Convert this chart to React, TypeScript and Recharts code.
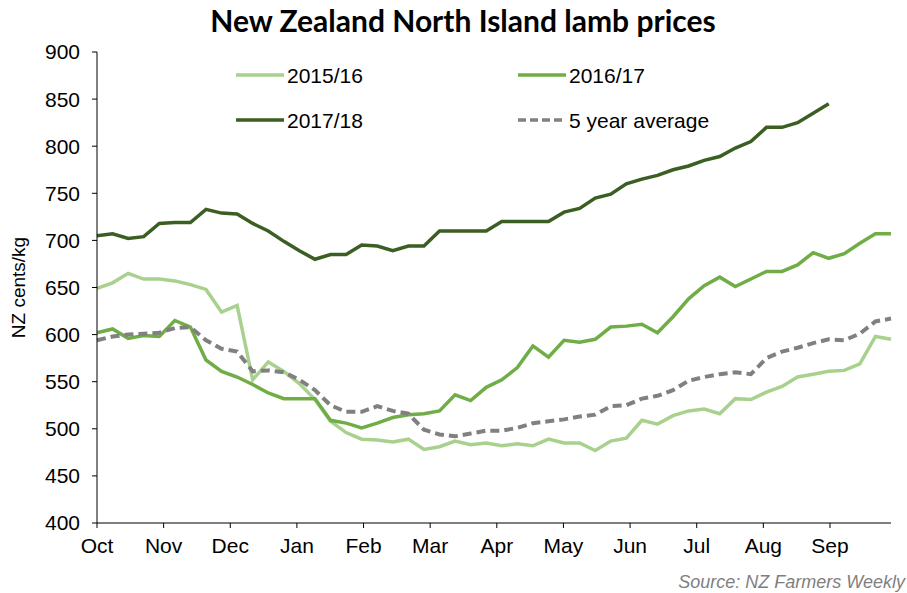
import { Legend, Line, LineChart, XAxis, YAxis } from "recharts";

const MONTHS = ["Oct", "Nov", "Dec", "Jan", "Feb", "Mar", "Apr", "May", "Jun", "Jul", "Aug", "Sep"];
// month tick positions in weeks from the start of the season
const MONTH_WEEKS = [0, 4.28, 8.56, 12.84, 17.12, 21.4, 25.68, 29.96, 34.24, 38.52, 42.8, 47.08];
const Y_TICKS = [400, 450, 500, 550, 600, 650, 700, 750, 800, 850, 900];

const S1516 = [
  649, 655, 665, 659, 659, 657, 653, 648, 624, 631, 552, 571, 561, 548, 531, 508, 496, 489, 488, 486,
  489, 478, 481, 487, 483, 485, 482, 484, 482, 489, 485, 485, 477, 487, 490, 509, 505, 514, 519, 521,
  516, 532, 531, 539, 545, 555, 558, 561, 562, 569, 598, 595,
];
const S1617 = [
  602, 606, 596, 599, 598, 615, 608, 573, 561, 555, 547, 538, 532, 532, 532, 509, 506, 501, 506, 512,
  515, 516, 519, 536, 530, 544, 552, 565, 588, 576, 594, 592, 595, 608, 609, 611, 602, 619, 638, 652,
  661, 651, 659, 667, 667, 674, 687, 681, 686, 697, 707, 707,
];
const S1718 = [
  705, 707, 702, 704, 718, 719, 719, 733, 729, 728, 718, 710, 699, 689, 680, 685, 685, 695, 694, 689,
  694, 694, 710, 710, 710, 710, 720, 720, 720, 720, 730, 734, 745, 749, 760, 765, 769, 775, 779, 785,
  789, 798, 805, 820, 820, 825, 835, 845,
];
const AVG5 = [
  594, 598, 600, 601, 602, 607, 608, 594, 585, 582, 561, 562, 560, 552, 541, 525, 518, 518, 524, 519,
  516, 499, 494, 492, 495, 498, 498, 501, 506, 508, 510, 513, 515, 524, 525, 532, 535, 541, 551, 555,
  558, 560, 558, 575, 582, 586, 591, 595, 594, 601, 614, 617,
];

const data = S1516.map((v, i) => ({
  week: i,
  s1516: v,
  s1617: S1617[i],
  s1718: i < S1718.length ? S1718[i] : null,
  avg5: AVG5[i],
}));

const SERIES = [
  { key: "s1516", name: "2015/16", color: "#A9D18E", dash: undefined },
  { key: "s1617", name: "2016/17", color: "#70AD47", dash: undefined },
  { key: "s1718", name: "2017/18", color: "#3B5E23", dash: undefined },
  { key: "avg5", name: "5 year average", color: "#808080", dash: "9 5" },
];

const font = "'Liberation Sans', Arial, sans-serif";

function LambLegend() {
  const cols = [236, 518];
  const rows = [75, 120];
  return (
    <svg width={907} height={140} style={{ position: "absolute", left: 0, top: 0 }}>
      {SERIES.map((s, i) => {
        const x = cols[i % 2];
        const y = rows[Math.floor(i / 2)];
        return (
          <g key={s.key}>
            <line x1={x} x2={x + 48} y1={y} y2={y} stroke={s.color} strokeWidth={3.5} strokeDasharray={s.dash ? "8 4" : undefined} />
            <text x={x + 51} y={y + 7.5} fontSize={21} fontFamily={font} fill="#000">
              {s.name}
            </text>
          </g>
        );
      })}
    </svg>
  );
}

export default function App() {
  return (
    <div style={{ position: "absolute", left: 0, top: 0, width: 907, height: 593, background: "#fff", fontFamily: font }}>
      <div
        style={{
          position: "absolute",
          top: 2,
          left: 0,
          width: 926,
          textAlign: "center",
          fontFamily: "Lato, 'Open Sans', sans-serif",
          fontWeight: 700,
          fontSize: 30,
          color: "#000",
        }}
      >
        New Zealand North Island lamb prices
      </div>
      <LineChart width={907} height={593} data={data} margin={{ top: 52, right: 16, bottom: 0, left: 0 }}>
        <XAxis
          dataKey="week"
          type="number"
          domain={[0, 51]}
          ticks={MONTH_WEEKS}
          tickFormatter={(v: number) => MONTHS[MONTH_WEEKS.indexOf(v)] ?? ""}
          height={70}
          stroke="#000"
          tickSize={5}
          tickMargin={10}
          tick={{ fontSize: 21, fill: "#000", fontFamily: font }}
          interval={0}
        />
        <YAxis
          type="number"
          domain={[400, 900]}
          ticks={Y_TICKS}
          width={97}
          stroke="#000"
          tickSize={5}
          tickMargin={12}
          tick={{ fontSize: 21, fill: "#000", fontFamily: font }}
          interval={0}
          label={{
            value: "NZ cents/kg",
            angle: -90,
            position: "insideLeft",
            offset: 18,
            style: { fontSize: 19, fill: "#000", fontFamily: font, textAnchor: "middle" },
          }}
        />
        <Legend content={<LambLegend />} wrapperStyle={{ position: "absolute", left: 0, top: 0 }} />
        {SERIES.map((s) => (
          <Line
            key={s.key}
            dataKey={s.key}
            name={s.name}
            stroke={s.color}
            strokeWidth={s.dash ? 4 : 3.5}
            strokeDasharray={s.dash}
            dot={false}
            isAnimationActive={false}
            connectNulls={false}
          />
        ))}
      </LineChart>
      <div
        style={{
          position: "absolute",
          right: 2,
          top: 572,
          fontSize: 18,
          fontStyle: "italic",
          color: "#7F7F7F",
          fontFamily: font,
        }}
      >
        Source: NZ Farmers Weekly
      </div>
    </div>
  );
}
